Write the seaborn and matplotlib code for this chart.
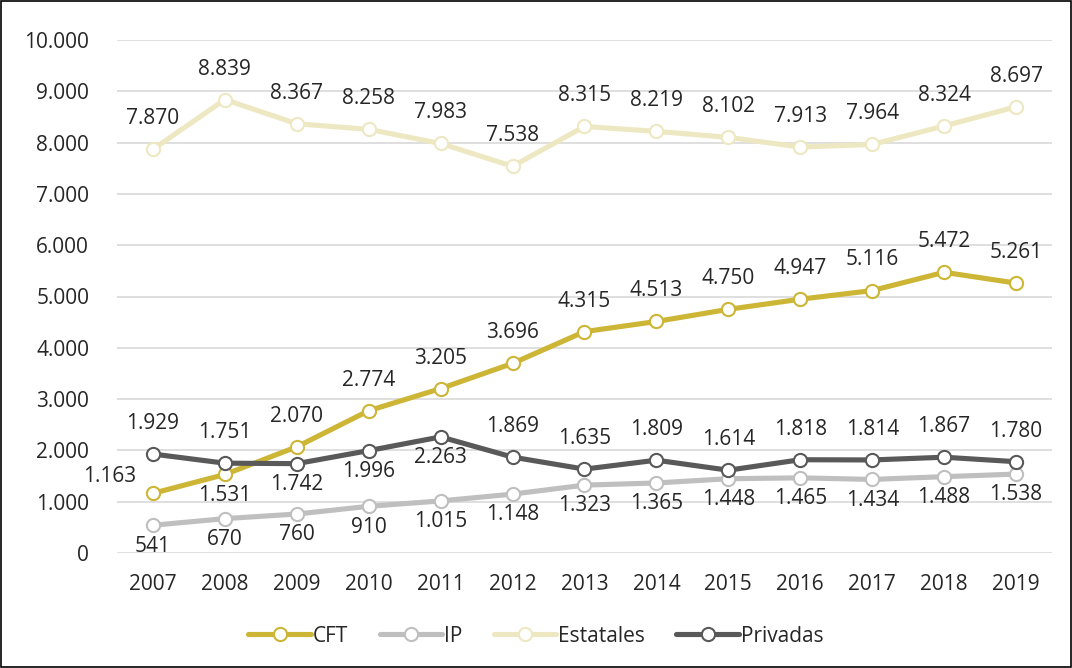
import matplotlib
matplotlib.use("Agg")
import matplotlib.pyplot as plt
import seaborn as sns
import pandas as pd
from matplotlib.ticker import FuncFormatter

years = [2007, 2008, 2009, 2010, 2011, 2012, 2013, 2014, 2015, 2016, 2017, 2018, 2019]
cft = [1163, 1531, 2070, 2774, 3205, 3696, 4315, 4513, 4750, 4947, 5116, 5472, 5261]
ip = [541, 670, 760, 910, 1015, 1148, 1323, 1365, 1448, 1465, 1434, 1488, 1538]
estatales = [7870, 8839, 8367, 8258, 7983, 7538, 8315, 8219, 8102, 7913, 7964, 8324, 8697]
privadas = [1929, 1751, 1742, 1996, 2263, 1869, 1635, 1809, 1614, 1818, 1814, 1867, 1780]
series_names = ["CFT", "IP", "Estatales", "Privadas"]

# label placement: 1 = above, -1 = below, 2 = above-left
pos_cft = [2, -1, 1, 1, 1, 1, 1, 1, 1, 1, 1, 1, 1]
pos_ip = [-1] * 13
pos_est = [1] * 13
pos_priv = [1, 1, -1, -1, -1, 1, 1, 1, 1, 1, 1, 1, 1]

colors = {"CFT": "#CDB535", "IP": "#BFBFBF", "Estatales": "#EEE8C2", "Privadas": "#595959"}

sns.set_style("white")
plt.rcParams['font.family'] = ['Open Sans', 'DejaVu Sans']

df = pd.DataFrame({
    "year": years * 4,
    "value": cft + ip + estatales + privadas,
    "serie": sum([[n] * len(years) for n in series_names], []),
})

fig = plt.figure(figsize=(10.72, 6.68), dpi=100)
ax = fig.add_axes([117 / 1072, 1 - 553 / 668, (1052 - 117) / 1072, (553 - 40) / 668])

for name in series_names:
    sub = df[df.serie == name]
    sns.lineplot(data=sub, x="year", y="value", ax=ax, color=colors[name], lw=3.7,
                 marker="o", markersize=9.5, markerfacecolor="white",
                 markeredgecolor=colors[name], markeredgewidth=1.5, label=name, zorder=3)

def fmt(v):
    return f"{v:,}".replace(",", ".")

for vals, pos in [(cft, pos_cft), (ip, pos_ip), (estatales, pos_est), (privadas, pos_priv)]:
    for x, v, p in zip(years, vals, pos):
        if p == 2:
            off = (-31, 12)
        elif p > 0:
            off = (0, 22)
        else:
            off = (0, -15)
        ax.annotate(fmt(v), (x, v), xytext=off, textcoords="offset points",
                    ha="center", va="center", fontsize=15, color="#262626")

ax.set_xlim(2006.5, 2019.5)
ax.set_ylim(0, 10000)
ax.set_yticks(range(0, 10001, 1000))
ax.yaxis.set_major_formatter(FuncFormatter(lambda v, _: fmt(int(v))))
ax.set_xticks(years)
ax.set_xticklabels([str(y) for y in years])
ax.tick_params(axis="y", labelsize=15, colors="#262626", length=0, pad=20)
ax.tick_params(axis="x", labelsize=15, colors="#262626", length=0, pad=15)
ax.grid(axis="y", color="#D9D9D9", lw=1.2)
ax.set_axisbelow(True)
for s in ax.spines.values():
    s.set_visible(False)
ax.set_xlabel("")
ax.set_ylabel("")

ax.legend(loc="center", bbox_to_anchor=(0.5, (668 - 636) / 668), bbox_transform=fig.transFigure,
          ncol=4, frameon=False, fontsize=15, handlelength=3.0, handletextpad=0.1,
          columnspacing=1.5)

fig.patches.append(plt.Rectangle((0.001, 0.0015), 0.998, 0.997, transform=fig.transFigure,
                                 fill=False, edgecolor="black", lw=1.2))

fig.savefig("out.png", dpi=100)
